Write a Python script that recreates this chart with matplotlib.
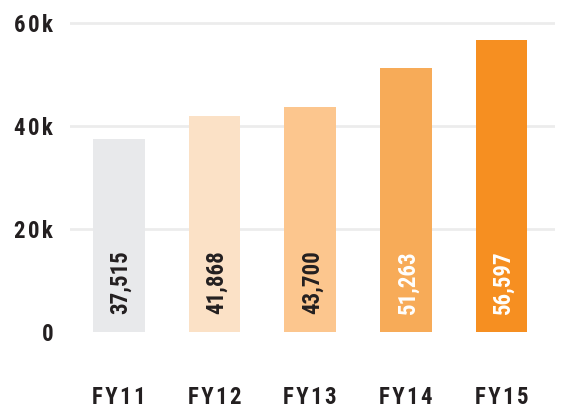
import matplotlib
matplotlib.use("Agg")
import matplotlib.pyplot as plt

years = ["FY11", "FY12", "FY13", "FY14", "FY15"]
totals = [37515, 41868, 43700, 51263, 56597]
bar_colors = ["#e8e9eb", "#fbe1c6", "#fcc68e", "#f7ab58", "#f68f21"]
label_colors = ["#231f20", "#231f20", "#231f20", "#ffffff", "#ffffff"]
y_ticks = [0, 20000, 40000, 60000]
y_labels = ["0", "20k", "40k", "60k"]

INK = "#231f20"
FONT = ["Roboto Condensed", "DejaVu Sans Condensed", "Roboto", "DejaVu Sans"]


def spaced(s):
    # fake letter tracking with hair spaces
    return "\u200a".join(s)


fig = plt.figure(figsize=(5.7, 4.17), dpi=100, facecolor="white")
ax = fig.add_axes([0.1228, 0.1918, 0.851, 0.7662])

xs = range(len(years))
ax.bar(xs, totals, width=0.54, color=bar_colors, zorder=2)

for x, v, c in zip(xs, totals, label_colors):
    ax.text(x + 0.02, 3400, f"{v:,}", rotation=90, ha="center", va="bottom",
            color=c, fontsize=16.5, fontweight="bold", family=FONT, zorder=3)

# light horizontal rules, none at zero
for t in y_ticks[1:]:
    ax.axhline(t, color="#ececec", lw=2, zorder=1)

ax.set_xlim(-0.51, 4.56)
ax.set_ylim(-1000, 61000)

ax.set_yticks(y_ticks)
ax.set_yticklabels([spaced(s) for s in y_labels])
ax.set_xticks(list(xs))
ax.set_xticklabels([spaced(s) for s in years])
for lab in ax.get_xticklabels() + ax.get_yticklabels():
    lab.set_family(FONT)
    lab.set_fontsize(16.5)
    lab.set_fontweight("bold")
    lab.set_color(INK)
ax.tick_params(axis="y", length=0, pad=12)
ax.tick_params(axis="x", length=0, pad=35)

for s in ax.spines.values():
    s.set_visible(False)

fig.savefig("out.png", dpi=100, facecolor="white")
